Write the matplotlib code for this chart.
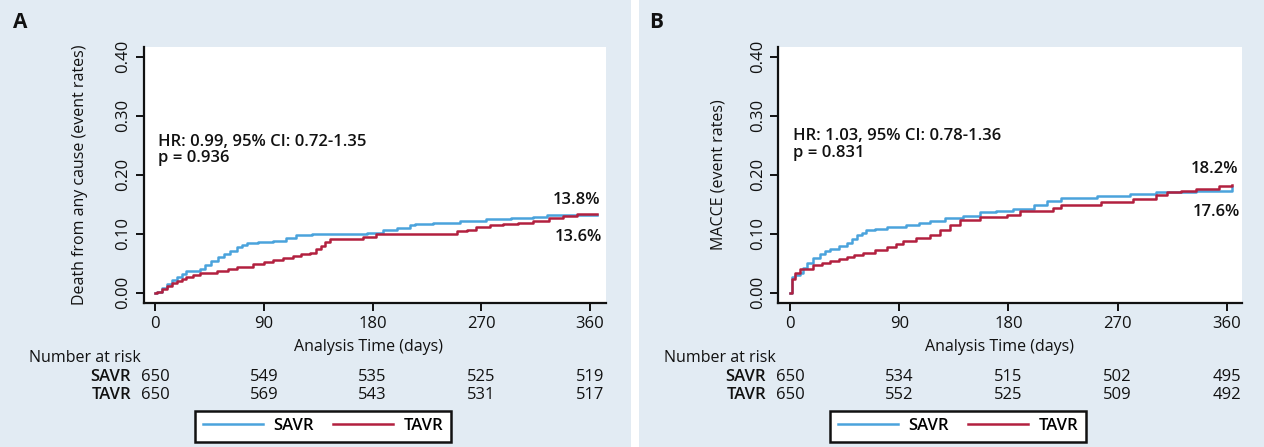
"""Kaplan-Meier style cumulative event curves, SAVR vs TAVR (panels A and B)."""
import matplotlib
matplotlib.use("Agg")
import matplotlib.pyplot as plt
from matplotlib.patches import Rectangle

plt.rcParams["font.family"] = ["Open Sans", "DejaVu Sans"]

BG, INK = "#e2ebf3", "#111111"
BLUE, RED = "#4aa3dc", "#b2203f"

# ---- data ----
a_savr_t = [0, 1.4, 6, 10, 14, 18, 22, 26, 37, 41, 46, 52, 57, 62, 68, 72, 76, 85, 98, 108,
            117, 130, 150, 175, 189, 200, 211, 215, 230, 252, 274, 295, 313, 324, 366]
a_savr_v = [0, 0.002, 0.008, 0.014, 0.021, 0.027, 0.032, 0.037, 0.040, 0.047, 0.054, 0.060,
            0.065, 0.071, 0.077, 0.081, 0.085, 0.086, 0.088, 0.092, 0.097, 0.0995, 0.100,
            0.102, 0.107, 0.110, 0.114, 0.117, 0.119, 0.122, 0.125, 0.127, 0.128, 0.132, 0.132]
a_tavr_t = [0, 2, 6, 10, 14, 18, 22, 26, 31, 37, 51, 60, 68, 81, 90, 98, 106, 114, 121, 128,
            133, 137, 141, 145, 172, 183, 244, 250, 258, 266, 277, 288, 300, 313, 326, 338,
            349, 366]
a_tavr_v = [0, 0.002, 0.007, 0.011, 0.016, 0.020, 0.024, 0.027, 0.030, 0.033, 0.037, 0.040,
            0.043, 0.048, 0.052, 0.056, 0.059, 0.062, 0.065, 0.068, 0.074, 0.080, 0.086, 0.091,
            0.094, 0.0995, 0.0995, 0.104, 0.107, 0.111, 0.114, 0.117, 0.119, 0.122, 0.126,
            0.130, 0.134, 0.134]

b_savr_t = [0, 1.4, 4, 8, 11, 14, 19, 25, 29, 33, 40, 47, 51, 55, 59, 63, 70, 80, 96, 106,
            115, 128, 143, 157, 170, 184, 201, 212, 223, 253, 280, 302, 335, 364]
b_savr_v = [0, 0.026, 0.030, 0.034, 0.042, 0.051, 0.058, 0.065, 0.070, 0.074, 0.080, 0.085,
            0.091, 0.097, 0.102, 0.106, 0.108, 0.111, 0.115, 0.118, 0.122, 0.126, 0.130, 0.137,
            0.139, 0.142, 0.148, 0.155, 0.160, 0.164, 0.168, 0.171, 0.173, 0.179]
b_tavr_t = [0, 1.4, 4, 8, 19, 26, 33, 40, 47, 53, 60, 70, 80, 87, 93, 104, 115, 124, 132, 140,
            157, 179, 190, 217, 223, 256, 283, 302, 311, 322, 335, 354, 364]
b_tavr_v = [0, 0.023, 0.034, 0.041, 0.047, 0.050, 0.054, 0.057, 0.060, 0.064, 0.068, 0.072,
            0.077, 0.083, 0.088, 0.092, 0.098, 0.107, 0.114, 0.123, 0.128, 0.131, 0.139, 0.143,
            0.148, 0.154, 0.158, 0.165, 0.171, 0.173, 0.176, 0.181, 0.182]

risk_days = [0, 90, 180, 270, 360]
a_risk_savr = [650, 549, 535, 525, 519]
a_risk_tavr = [650, 569, 543, 531, 517]
b_risk_savr = [650, 534, 515, 502, 495]
b_risk_tavr = [650, 552, 525, 509, 492]

yticks = [0.0, 0.1, 0.2, 0.3, 0.4]

fig = plt.figure(figsize=(12.64, 4.47), dpi=100, facecolor="white")
fig.patches.append(Rectangle((0, 0), 631 / 1264, 1, transform=fig.transFigure,
                             facecolor=BG, edgecolor="none", zorder=-10))
fig.patches.append(Rectangle((639 / 1264, 0), 1 - 639 / 1264, 1, transform=fig.transFigure,
                             facecolor=BG, edgecolor="none", zorder=-10))

panels = [
    dict(rect=[0.1137, 0.3221, 0.3657, 0.5734], xlim=(-9.4, 373.2), letter="A", lx=20,
         ylabel="Death from any cause (event rates)", ylx=-0.12, xlx=0.487,
         savr=(a_savr_t, a_savr_v), tavr=(a_tavr_t, a_tavr_v),
         hr="HR: 0.99, 95% CI: 0.72-1.35", p="p = 0.936", hx=2.5, hy=(0.256, 0.228),
         pct=[("13.8%", 349, 0.157), ("13.6%", 350, 0.095)],
         risk=(a_risk_savr, a_risk_tavr), nx=-0.249, leg=(323 / 1264, 21 / 447)),
    dict(rect=[0.6159, 0.3221, 0.3665, 0.5734], xlim=(-9.5, 372.4), letter="B", lx=656,
         ylabel="MACCE (event rates)", ylx=-0.112, xlx=0.478,
         savr=(b_savr_t, b_savr_v), tavr=(b_tavr_t, b_tavr_v),
         hr="HR: 1.03, 95% CI: 0.78-1.36", p="p = 0.831", hx=2.2, hy=(0.266, 0.236),
         pct=[("18.2%", 350, 0.209), ("17.6%", 351.7, 0.136)],
         risk=(b_risk_savr, b_risk_tavr), nx=-0.247, leg=(958 / 1264, 21 / 447)),
]

for p in panels:
    ax = fig.add_axes(p["rect"])
    ax.set_facecolor("white")
    ax.set_xlim(*p["xlim"]); ax.set_ylim(-0.0175, 0.417)
    for s in ("top", "right"): ax.spines[s].set_visible(False)
    for s in ("left", "bottom"):
        ax.spines[s].set_color(INK); ax.spines[s].set_linewidth(1.6)
    ax.set_xticks(risk_days)
    ax.set_yticks(yticks)
    ax.set_yticklabels([f"{v:.2f}" for v in yticks], rotation=90, va="center")
    ax.tick_params(colors=INK, labelsize=12, length=6, width=1.4, pad=3)

    ls, = ax.plot(*p["savr"], drawstyle="steps-post", color=BLUE, lw=1.8, label="SAVR")
    lt, = ax.plot(*p["tavr"], drawstyle="steps-post", color=RED, lw=1.8, label="TAVR")

    ax.set_ylabel(p["ylabel"], fontsize=11.5, color=INK)
    ax.yaxis.set_label_coords(p["ylx"], 0.5)
    ax.set_xlabel("Analysis Time (days)", fontsize=11.5, color=INK)
    ax.xaxis.set_label_coords(p["xlx"], -0.14)

    ax.text(p["hx"], p["hy"][0], p["hr"], fontsize=12, fontweight="semibold", color=INK,
            va="center", ha="left")
    ax.text(p["hx"], p["hy"][1], p["p"], fontsize=12, fontweight="semibold", color=INK,
            va="center", ha="left")
    for txt, x, y in p["pct"]:
        ax.text(x, y, txt, fontsize=12, fontweight="semibold", color=INK,
                ha="center", va="center")

    # number at risk table
    tr = ax.get_xaxis_transform()
    ax.text(p["nx"], -0.2146, "Number at risk", transform=ax.transAxes, fontsize=11.5,
            ha="left", va="center", color=INK)
    for name, row, y in (("SAVR", p["risk"][0], -0.289), ("TAVR", p["risk"][1], -0.359)):
        ax.text(-0.027, y, name, transform=ax.transAxes, fontsize=12, fontweight="semibold",
                ha="right", va="center", color=INK)
        for d, n in zip(risk_days, row):
            ax.text(d, y, str(n), transform=tr, fontsize=12, ha="center", va="center",
                    color=INK, clip_on=False)

    fig.text(p["lx"] / 1264, 1 - 23 / 447, p["letter"], fontsize=15, fontweight="bold",
             color=INK, ha="center", va="center")

    leg = ax.legend(handles=[ls, lt], loc="center", bbox_to_anchor=p["leg"],
                    bbox_transform=fig.transFigure, ncol=2, frameon=True, fancybox=False,
                    prop={"weight": "semibold", "size": 12},
                    handlelength=3.6, columnspacing=1.2, handletextpad=0.6,
                    borderpad=0.45, edgecolor=INK, framealpha=1)
    leg.get_frame().set_linewidth(1.8)

fig.savefig("out.png", dpi=100, facecolor="white")
print("ok")
